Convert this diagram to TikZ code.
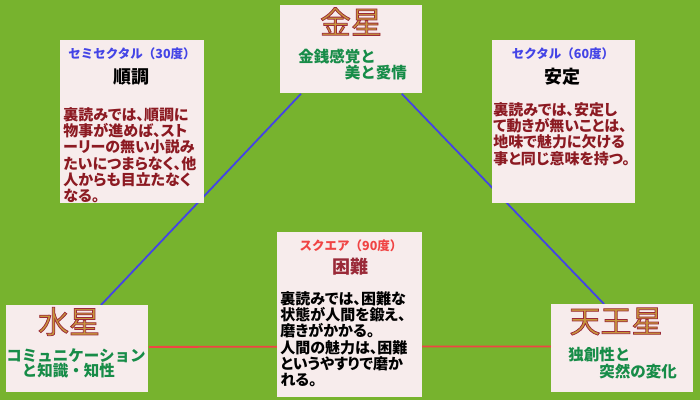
\documentclass[tikz,border=0pt]{standalone}
\usepackage{fontspec}
\newfontfamily\jp{Noto Sans CJK JP}
\newfontfamily\jpp{Noto Sans CJK JP}[RawFeature=+palt]
\usetikzlibrary{positioning, backgrounds, calc}
\definecolor{bggreen}{HTML}{77B32E}
\definecolor{cardpink}{HTML}{F7ECEC}
\definecolor{planetred}{HTML}{9A2A38}
\definecolor{planetgold}{HTML}{C8963C}
\definecolor{themegreen}{HTML}{178C48}
\definecolor{aspectblue}{HTML}{4444E6}
\definecolor{aspectred}{HTML}{F04444}
\definecolor{readred}{HTML}{8C1A22}
% gold letters with a maroon outline
\newcommand{\planetglyph}[1]{{\color{planetgold}\special{pdf:literal direct 0.604 0.165 0.22 RG 0.75 w 2 Tr}#1\special{pdf:literal direct 0 Tr}}}

\begin{document}
\begin{tikzpicture}[x=1pt, y=-1pt, thick]
\tikzset{card/.style={fill=cardpink, inner sep=0, anchor=north west, minimum width=142pt}, planet/.style={font=\jp\fontsize{31}{31}\selectfont, inner sep=0}, theme/.style={font=\jp\bfseries\fontsize{15.5}{15.5}\selectfont, text=themegreen, align=left, anchor=north west, inner sep=0}, aspect/.style={font=\jp\bfseries\fontsize{12.5}{13}\selectfont, inner sep=0}, keyword/.style={font=\jp\bfseries\fontsize{18}{18}\selectfont, inner sep=0}, reading/.style={font=\jpp\bfseries\fontsize{15}{16.3}\selectfont, align=left, anchor=north west, inner sep=0}, link/.style={line width=1.8pt}}
\useasboundingbox (0,0) rectangle (700,400);
% planets
\node[card, minimum height=88pt] (venus) at (280,5) {};
\node[planet] (venusT) at (351,21.5) {\planetglyph{金星}};
\node[theme] (venusS) at (298,49) {金銭感覚と\\\hspace*{3em}美と愛情};
\node[card, minimum height=87pt] (mercury) at (6,305) {};
\node[planet] (mercuryT) at (69,321.5) {\planetglyph{水星}};
\node[theme] (mercuryS) at (6,348) {コミュニケーション\\\hspace*{1em}と知識・知性};
\node[card, minimum height=88pt] (uranus) at (551,304) {};
\node[planet] (uranusT) at (616,321.5) {\planetglyph{天王星}};
\node[theme, font=\jp\bfseries\fontsize{15.5}{17}\selectfont] (uranusS) at (568,347) {独創性と\\\hspace*{2em}突然の変化};
% aspects
\node[card, minimum width=144pt, minimum height=163pt] (semi) at (60,40) {};
\node[aspect, text=aspectblue] (semiA) at (132,54) {セミセクタル（30度）};
\node[keyword] (semiK) at (131,77) {順調};
\node[reading, text=readred] (semiR) at (63,107) {裏読みでは、順調に\\物事が進めば、スト\\ーリーの無い小説み\\たいにつまらなく、他\\人からも目立たなく\\なる。};
\node[card, minimum width=143pt, minimum height=163pt] (sext) at (492,40) {};
\node[aspect, text=aspectblue] (sextA) at (563,54) {セクタル（60度）};
\node[keyword] (sextK) at (562,77) {安定};
\node[reading, text=readred] (sextR) at (493,102) {裏読みでは、安定し\\て動きが無いことは、\\地味で魅力に欠ける\\事と同じ意味を持つ。};
\node[card, minimum width=145pt, minimum height=165pt] (square) at (277,232) {};
\node[aspect, text=aspectred] (squareA) at (351,246) {スクエア（90度）};
\node[keyword, text=planetred] (squareK) at (350,266.5) {困難};
\node[reading] (squareR) at (280,291) {裏読みでは、困難な\\状態が人間を鍛え、\\磨きがかかる。\\人間の魅力は、困難\\というやすりで磨か\\れる。};
\begin{pgfonlayer}{background}
\fill[bggreen] (0,0) rectangle (700,400);
\draw[link, aspectblue] ([xshift=21pt]venus.south west) -- ([xshift=95pt]mercury.north west);
\draw[link, aspectblue] ([xshift=-21pt]venus.south east) -- ([xshift=53pt]uranus.north west);
\draw[link, aspectred] ([yshift=2pt]mercury.east) -- ([yshift=2pt]uranus.west);
\end{pgfonlayer}
\end{tikzpicture}
\end{document}
